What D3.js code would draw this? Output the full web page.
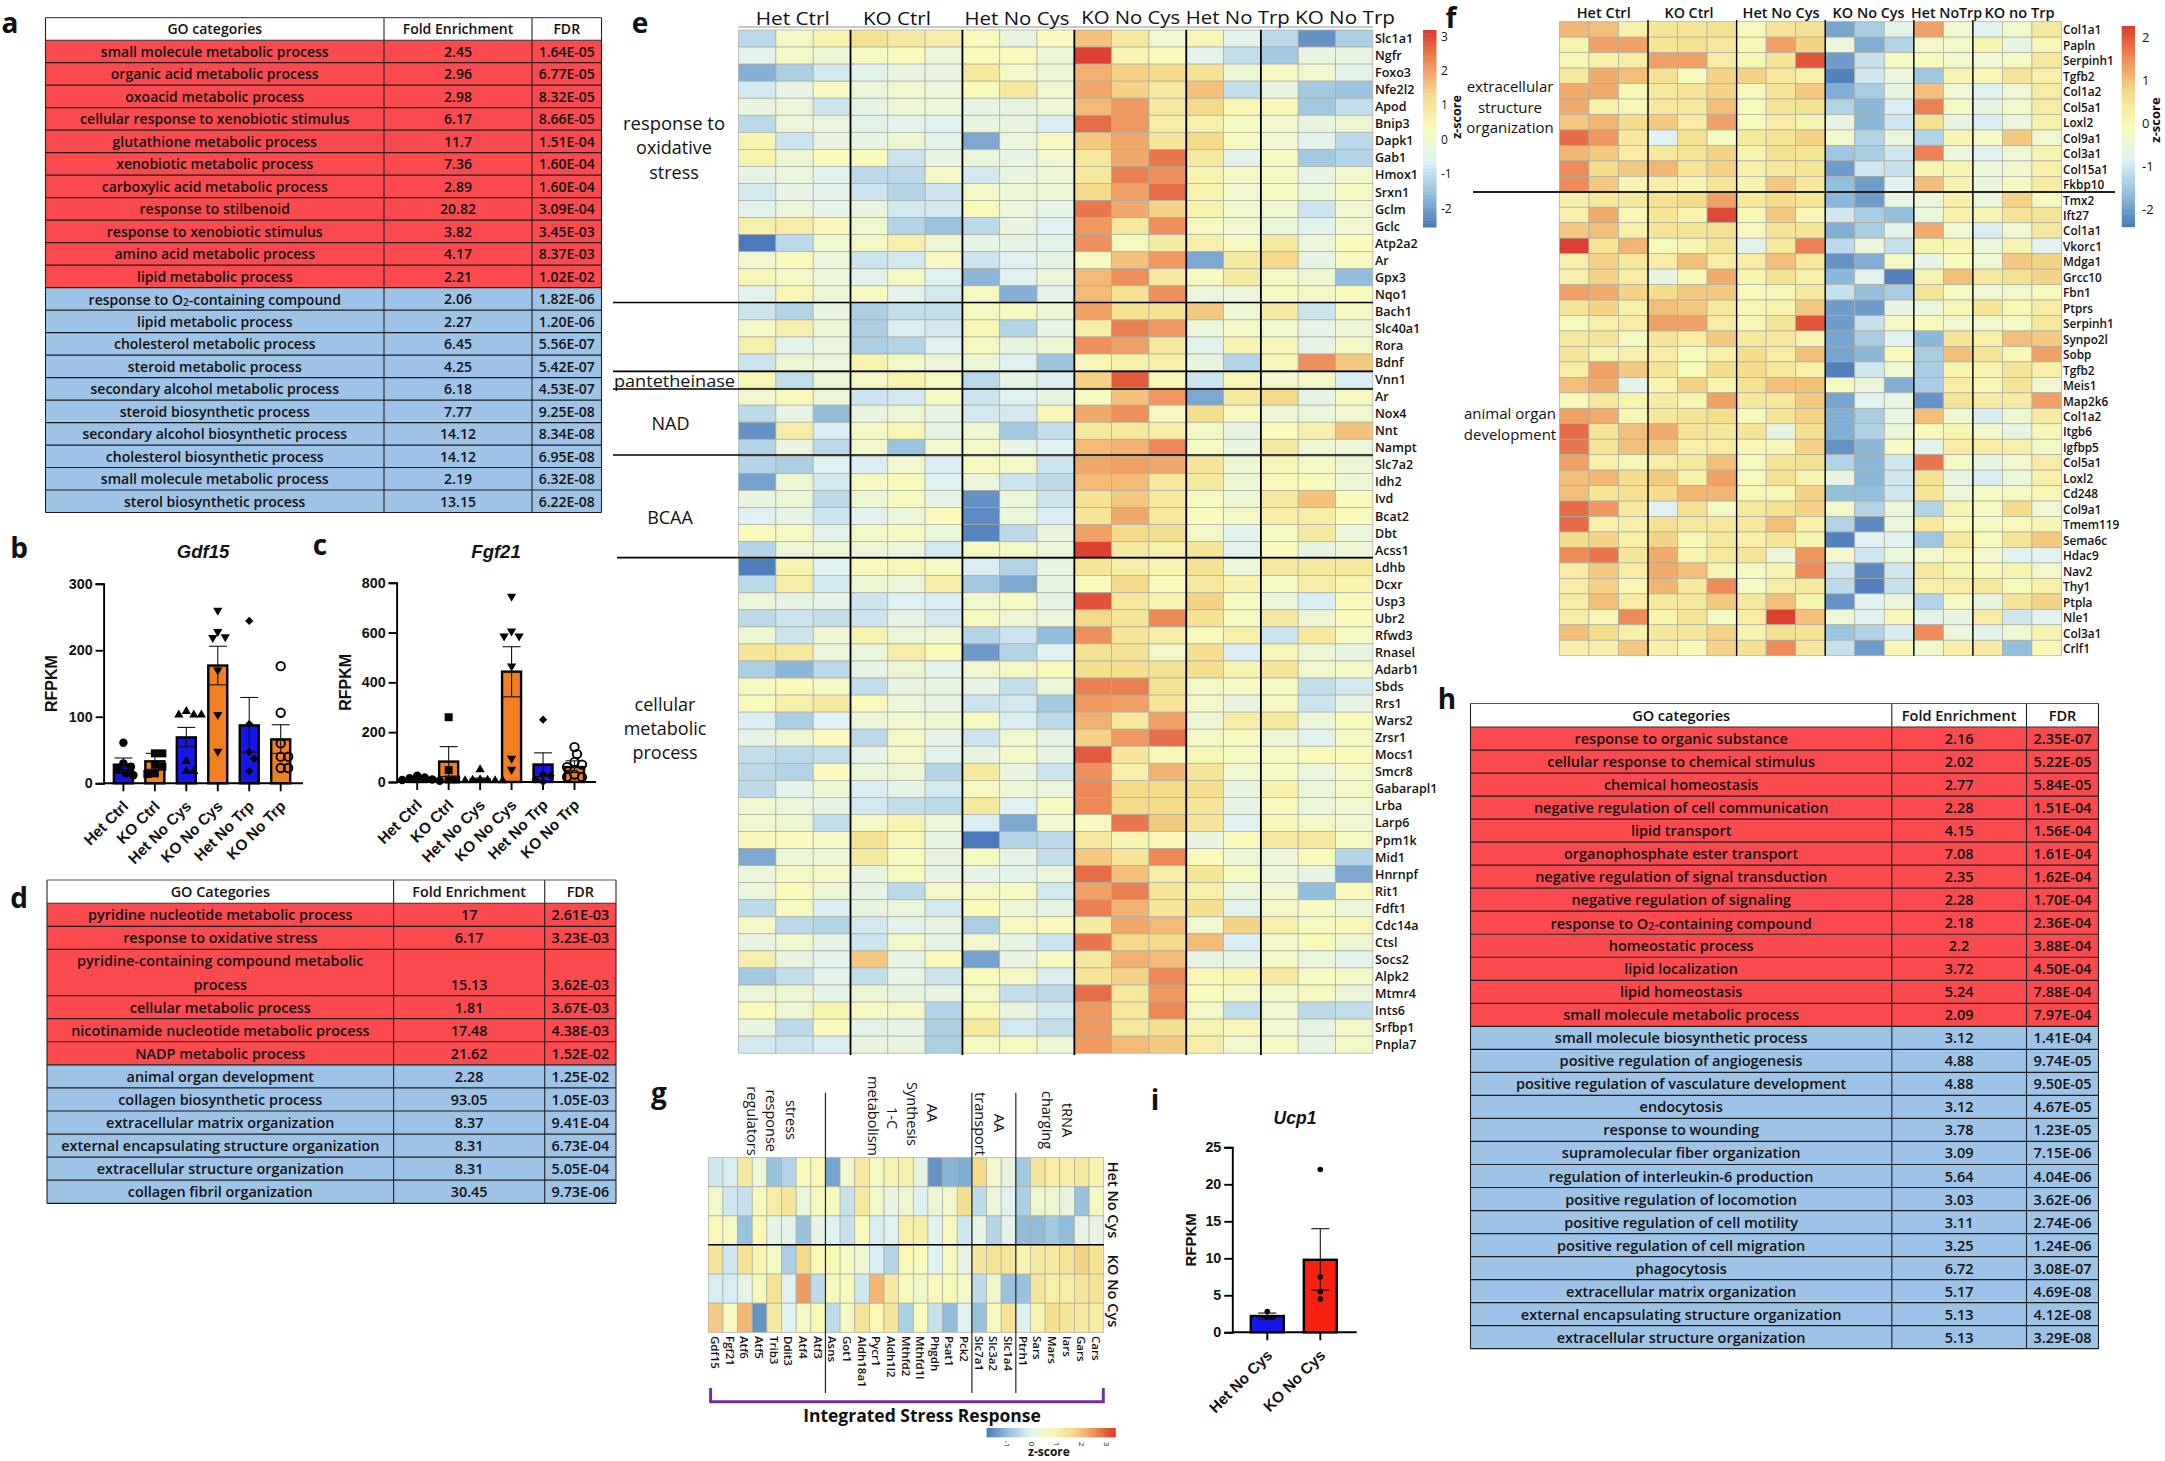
<!DOCTYPE html>
<html><head><meta charset="utf-8">
<script src="https://cdn.jsdelivr.net/npm/d3@7/dist/d3.min.js"></script>
<style>
html,body{margin:0;padding:0;background:#fff}
svg{display:block}
text{font-family:"Open Sans","Noto Sans",sans-serif;fill:#111}
.ar{font-family:"Liberation Sans",Arial,sans-serif;font-weight:700}
</style></head><body>
<svg id="c" width="2165" height="1461" viewBox="0 0 2165 1461"></svg>
<script>
// ---------- table data ----------
const termsA=["small molecule metabolic process","organic acid metabolic process","oxoacid metabolic process","cellular response to xenobiotic stimulus","glutathione metabolic process","xenobiotic metabolic process","carboxylic acid metabolic process","response to stilbenoid","response to xenobiotic stimulus","amino acid metabolic process","lipid metabolic process","response to O₂-containing compound","lipid metabolic process","cholesterol metabolic process","steroid metabolic process","secondary alcohol metabolic process","steroid biosynthetic process","secondary alcohol biosynthetic process","cholesterol biosynthetic process","small molecule metabolic process","sterol biosynthetic process"];
const foldA=["2.45","2.96","2.98","6.17","11.7","7.36","2.89","20.82","3.82","4.17","2.21","2.06","2.27","6.45","4.25","6.18","7.77","14.12","14.12","2.19","13.15"];
const fdrA=["1.64E-05","6.77E-05","8.32E-05","8.66E-05","1.51E-04","1.60E-04","1.60E-04","3.09E-04","3.45E-03","8.37E-03","1.02E-02","1.82E-06","1.20E-06","5.56E-07","5.42E-07","4.53E-07","9.25E-08","8.34E-08","6.95E-08","6.32E-08","6.22E-08"];
const redA=11;
const termsD=["pyridine nucleotide metabolic process","response to oxidative stress","pyridine-containing compound metabolic|process","cellular metabolic process","nicotinamide nucleotide metabolic process","NADP metabolic process","animal organ development","collagen biosynthetic process","extracellular matrix organization","external encapsulating structure organization","extracellular structure organization","collagen fibril organization"];
const foldD=["17","6.17","15.13","1.81","17.48","21.62","2.28","93.05","8.37","8.31","8.31","30.45"];
const fdrD=["2.61E-03","3.23E-03","3.62E-03","3.67E-03","4.38E-03","1.52E-02","1.25E-02","1.05E-03","9.41E-04","6.73E-04","5.05E-04","9.73E-06"];
const redD=6;
const termsH=["response to organic substance","cellular response to chemical stimulus","chemical homeostasis","negative regulation of cell communication","lipid transport","organophosphate ester transport","negative regulation of signal transduction","negative regulation of signaling","response to O₂-containing compound","homeostatic process","lipid localization","lipid homeostasis","small molecule metabolic process","small molecule biosynthetic process","positive regulation of angiogenesis","positive regulation of vasculature development","endocytosis","response to wounding","supramolecular fiber organization","regulation of interleukin-6 production","positive regulation of locomotion","positive regulation of cell motility","positive regulation of cell migration","phagocytosis","extracellular matrix organization","external encapsulating structure organization","extracellular structure organization"];
const foldH=["2.16","2.02","2.77","2.28","4.15","7.08","2.35","2.28","2.18","2.2","3.72","5.24","2.09","3.12","4.88","4.88","3.12","3.78","3.09","5.64","3.03","3.11","3.25","6.72","5.17","5.13","5.13"];
const fdrH=["2.35E-07","5.22E-05","5.84E-05","1.51E-04","1.56E-04","1.61E-04","1.62E-04","1.70E-04","2.36E-04","3.88E-04","4.50E-04","7.88E-04","7.97E-04","1.41E-04","9.74E-05","9.50E-05","4.67E-05","1.23E-05","7.15E-06","4.04E-06","3.62E-06","2.74E-06","1.24E-06","3.08E-07","4.69E-08","4.12E-08","3.29E-08"];
const redH=13;

// ---------- bar chart data ----------
const barGroups=["Het Ctrl","KO Ctrl","Het No Cys","KO No Cys","Het No Trp","KO No Trp"];
const gdf15Mean=[28,33,69,177,87,66];
const gdf15Hi=[38,45,84,206,129,88];
const gdf15Lo=[18,21,55,148,47,45];
const gdf15Pts=[[61,30,25,20,15,12],[45,45,25,15,28,14],[108,103,103,103,33,18,18],[260,228,219,220,170,103,48],[244,89,47,37,18],[176,106,60,40,40,23,23]];
const fgf21Mean=[12,82,10,443,70,60];
const fgf21Hi=[16,142,16,543,117,85];
const fgf21Lo=[8,22,4,342,22,38];
const fgf21Pts=[[25,18,15,10,8,5],[260,48,10,10],[50,10,8,8,6,6,6],[745,605,585,585,465,95,50],[250,30,25,10,0],[140,112,80,70,60,30,20,20]];
const ucpGroups=["Het No Cys","KO No Cys"];
const ucpMean=[2.2,9.8];
const ucpHi=[2.6,14];
const ucpLo=[1.8,5.7];
const ucpPts=[[2.8,2,2],[22,7.5,5.5,4.5]];

// ---------- heatmap e ----------
const genesE=["Slc1a1","Ngfr","Foxo3","Nfe2l2","Apod","Bnip3","Dapk1","Gab1","Hmox1","Srxn1","Gclm","Gclc","Atp2a2","Ar","Gpx3","Nqo1","Bach1","Slc40a1","Rora","Bdnf","Vnn1","Ar","Nox4","Nnt","Nampt","Slc7a2","Idh2","Ivd","Bcat2","Dbt","Acss1","Ldhb","Dcxr","Usp3","Ubr2","Rfwd3","Rnasel","Adarb1","Sbds","Rrs1","Wars2","Zrsr1","Mocs1","Smcr8","Gabarapl1","Lrba","Larp6","Ppm1k","Mid1","Hnrnpf","Rit1","Fdft1","Cdc14a","Ctsl","Socs2","Alpk2","Mtmr4","Ints6","Srfbp1","Pnpla7"];
const heatE=[
[-1.1,0.1,0.5,1.1,0.8,0.7,0.3,-0.3,0.3,1.6,0.8,0,0.4,-0.5,-1.1,-2.2,-1.3],
[-0.5,0.1,-0.1,0.2,0.3,-0.2,0.3,0.3,-0.1,3.1,0.5,0.3,-0.5,-1,-1.4,-0.3,-0.3],
[-1.8,-1.3,-0.8,-0.5,-0.3,-0.3,0.9,0.1,-0.1,1.8,1.4,1.3,1.1,-0.1,0.2,0,-0.5],
[-0.8,-0.4,0.2,-0.2,0,-0.2,0.3,0.8,0,1.9,1.4,0.8,1.6,-1,-0.3,-1.4,-1.5],
[-0.3,-0.2,-0.9,-0.4,-0.1,-0.2,-0.4,-0.3,-0.1,1.7,2.1,0.9,1.3,0.4,0.4,-1.4,-1],
[-1.1,-0.2,-0.2,-0.5,-0.5,-0.6,-0.3,-0.3,-0.7,2.6,2.1,0.7,0.6,0.2,0,-0.3,-0.1],
[0.5,-0.9,-0.3,-0.4,-0.1,-0.5,-1.9,-0.2,0.2,1.5,1.9,1,1.3,0.2,0,-0.5,-1.1],
[0.5,-0.1,0.3,0.3,-0.9,-0.3,-0.2,-0.4,0,0.9,1.9,2.5,0.8,-0.5,0.2,-1.4,-1.2],
[-0.4,-0.2,-0.5,-1.1,-1.1,0.1,-0.8,-0.3,-0.1,0.9,2.4,2.2,0.5,0.1,0.2,-0.4,0],
[-0.8,-0.4,-0.5,-0.9,-1.2,-0.9,0.1,-0.1,-0.1,1.3,2,2.6,0.5,0,0.2,-0.2,0.2],
[-0.5,-0.2,-0.4,-0.3,-0.8,-0.8,0.3,-0.2,-0.4,2.5,1.9,1.4,0.5,0,0,-0.9,0],
[0.6,0.7,0.4,0,-1.2,-1.5,-1.1,-0.3,-0.6,2.1,0.9,2.2,0.2,0,-0.2,-0.5,0],
[-2.6,-1.1,0,0.1,0.6,-0.1,-0.4,-0.4,-0.5,2.2,0.2,0.8,0.6,0.2,0.8,-0.2,0.3],
[0,0.3,-0.2,-0.9,-0.8,0.2,-0.9,-0.6,-0.4,0.2,1.6,2.1,-1.9,0.8,1.3,-0.4,0.2],
[0.4,0.1,-0.2,-0.5,0.2,-0.6,-1.7,-0.6,-0.2,1.7,2.2,0.8,0.2,0.8,0.1,-0.1,-1.6],
[-0.5,0.4,-0.1,0.2,-0.5,-0.8,0.2,-1.8,-0.5,1.7,1.1,2.2,-0.2,-0.2,0.2,0.1,0.3],
[-0.9,-1.2,-0.3,-1.3,-1,-1,0.2,0.2,-0.1,2,1.1,1.1,1.5,-0.1,0.8,-0.9,0.2],
[0.1,0.6,-0.1,-1.3,-0.7,-0.8,0.4,-1.2,-0.4,0.7,2.4,2.1,-0.2,0.1,0,-0.4,-0.1],
[0.6,-0.5,-0.2,-1.3,-1.2,-0.6,0.2,-0.3,-0.1,2.2,2,0.9,-0.5,0.5,0.4,-0.4,0.1],
[-0.9,-0.1,-0.2,0.5,0.1,-0.2,-0.1,-0.6,-1.5,0.4,0.6,0.6,-0.3,-1.2,0.4,2.2,1.5],
[0.4,-1,-0.1,0.1,0.5,0.2,-1.1,-0.4,-0.7,1.4,2.8,0.4,-0.9,0.4,0,0.1,-0.7],
[0,0.3,-0.2,-0.9,-0.8,0.2,-0.9,-0.6,-0.4,0.2,1.6,2.1,-1.9,0.8,1.3,-0.4,0.2],
[-1.1,-0.4,-1.6,-0.3,-0.1,-0.4,-0.8,-0.8,0.4,1.9,2.2,0.2,1.2,0.2,-0.1,-0.2,0],
[-2.2,0.7,-0.7,0.1,0.4,-0.4,-0.1,-1.4,-1,0.9,0.9,0.7,0.1,-0.4,0.3,0.6,1.6],
[-1.2,-0.3,-1.1,0,-1.5,0,0.1,-0.4,-0.6,1.7,1.8,2.3,0.2,-0.3,0.8,-0.1,-0.2],
[-1.2,-1.3,-0.6,-0.7,0,-0.7,0.2,0.1,-0.9,1.9,2,1.9,1,-0.1,0.4,0.1,-0.1],
[-2,-0.1,-0.8,0.2,0.3,-0.6,-0.2,-0.9,-1.1,1.7,1.7,0.9,0.8,-0.1,0.3,0.3,-0.1],
[-0.3,-0.1,-1.1,-0.1,0.2,-0.4,-2.2,-0.2,-0.9,1.1,1.5,0.9,0.2,-0.1,0.9,1.6,0.3],
[-0.6,-0.4,-0.9,-0.5,-0.2,0.3,-2.3,-0.2,-0.7,1,1.9,0.9,0.3,0.1,0.7,0.7,0.3],
[0.3,0.2,-0.5,0.1,0.2,-0.2,-2.4,-1.1,-0.3,2,1.3,1.2,0.1,-0.5,0.2,0.8,-0.2],
[-1.2,-0.1,-0.1,-0.1,-0.2,-0.8,0.2,0.1,-0.2,3.1,0.8,0.6,1,-0.5,0.3,-0.3,-0.1],
[-2.5,0.5,-0.6,0.3,0.4,0.2,-0.7,-1.2,-0.3,1,0.7,0.5,1.1,-0.2,0.9,0.8,0.9],
[-1.1,0.7,-0.8,-0.1,-0.2,0.7,-1.4,-1.9,-0.3,0.3,1.3,0.3,0.9,0.6,0.2,0.7,0.5],
[-0.2,-0.4,-0.4,-0.9,-0.6,-0.7,0,0.2,-0.4,2.9,0.9,0.5,1.4,0.2,-0.2,-0.7,0.3],
[-1.1,-0.9,-1,-0.9,-0.4,-0.8,0.2,-0.1,-0.2,1.3,1,2.3,1.1,0.2,0.9,-0.1,0.3],
[-0.1,-0.9,-0.1,0.5,-0.2,-0.1,-1.2,-0.9,-1.6,2.2,1,0.7,0.3,0.6,-0.9,0.9,0.2],
[1,0.9,-0.2,-0.2,0.7,0.3,-2.1,-1.2,-0.6,1.1,1.1,0.1,1.2,-0.7,0.4,-0.1,-0.3],
[-1.3,-1.7,-1.1,-0.4,-0.1,-0.5,0,0.1,0.3,1.2,1.2,1.1,1.2,0.5,1,0,0.1],
[0.2,0.3,0.1,-1,-0.3,-0.3,-0.4,-1,-0.2,2.4,2.4,1.1,0.1,0.2,0.2,-1,-0.8],
[0.3,0.6,0.8,0.3,-0.2,-0.4,-0.9,-0.8,-1.4,2.1,2,1,0.1,-0.3,0.2,-0.9,-0.4],
[-0.7,-1.3,-0.6,-0.2,0,-0.1,0.2,-0.7,-1.1,1.8,0.9,2,-0.1,0.7,0.9,-0.2,0.3],
[-0.4,-0.1,0.3,-1.1,0.1,-0.4,-0.9,0,-0.4,1.4,2.1,2.6,0.1,0.2,-0.1,-0.5,0.1],
[-1,-1.1,-1,-0.4,0.1,-0.5,-0.3,0.1,-0.4,2.8,1,0.4,0.4,0.2,0.2,0.3,0.3],
[-1.1,-1.2,0.3,-0.2,-0.1,-1.2,0.8,-0.3,-0.9,2.2,0.6,1.8,1,0,0.2,-0.2,0.1],
[-1.1,-0.5,-0.1,-0.7,-0.4,-0.8,0.2,-0.1,-0.2,2.3,1.3,1.3,1.2,-0.3,0.6,-0.2,0.1],
[0,-0.2,-0.4,-0.8,-1,-1.1,0.8,-0.6,0.2,2.3,1.3,1.3,1,-0.4,0.3,-0.2,0],
[0,-0.1,-1,0.1,0.5,-0.2,-0.7,-1.9,0,0.2,2.5,1.5,1,-0.6,0.4,0.1,0],
[0.4,0.3,0.1,1.1,0.4,-0.3,-2.6,-1.2,-1.1,0.9,0.5,0.4,-0.3,0.3,0.9,0.9,0.2],
[-1.9,-0.1,-0.1,0.8,0.2,-0.3,0.2,-0.4,-1,1.5,1,2.3,0.3,-0.1,-0.2,0.3,-1.2],
[-0.2,0.1,0.1,-0.3,0.2,-0.4,-0.4,-0.5,-0.2,2.6,1.6,0.7,1,0.2,-0.2,-0.4,-1.9],
[-0.2,0.3,-0.1,-0.4,-1.1,0.1,0.1,0.2,-0.8,2,2.4,1,0.6,-0.2,0,-1.6,0.3],
[-1.1,0.2,-0.7,-0.3,-0.2,-0.8,0.3,-0.1,-0.4,2.4,1.8,1,1.2,-0.5,0.1,0.2,-0.2],
[0.1,-1.1,-1.2,-0.8,-0.5,-0.3,-1.3,0.2,0.3,0.8,1.9,1.7,0,1.4,0.6,0.2,0.4],
[-0.3,0,-0.4,-0.9,0.1,-0.4,0,-0.4,-0.9,2.5,1.3,1.3,1.7,-0.7,0.1,0.3,-0.1],
[0.6,-0.3,-0.5,1.5,-0.4,0.3,-2,-0.3,0.2,0.9,1.8,1.7,-0.3,-0.4,0.1,-0.2,-0.5],
[-1.4,-1,-0.5,-1,-0.4,-0.9,0.3,0.1,-0.7,1,1.4,2.3,0.4,0.5,0.8,0.2,0.1],
[-0.2,-0.1,-0.4,-0.1,-0.3,-0.4,0.1,-1,-1.1,2.6,0.9,2.1,0.3,0.1,0.1,0.2,-0.2],
[0.3,-0.1,0.5,0.2,0.1,-1.2,0.4,-0.3,-0.8,2.1,0.9,2.3,0.1,-1,0,-1.1,-1],
[-0.3,-1.1,0.3,-0.5,-0.4,-1.3,0.9,-0.8,-1,2.1,0.9,1.2,0.5,0.4,0,-0.4,0.1],
[-0.8,-0.9,-0.7,-0.3,-0.3,-1.3,0.2,0.2,-0.1,2.1,1.7,1.5,0.7,0,0.2,-0.4,0.1]];
const headE=["Het Ctrl","KO Ctrl","Het No Cys","KO No Cys","Het No Trp","KO No Trp"];

// ---------- heatmap f ----------
const genesF=["Col1a1","Papln","Serpinh1","Tgfb2","Col1a2","Col5a1","Loxl2","Col9a1","Col3a1","Col15a1","Fkbp10","Tmx2","Ift27","Col1a1","Vkorc1","Mdga1","Grcc10","Fbn1","Ptprs","Serpinh1","Synpo2l","Sobp","Tgfb2","Meis1","Map2k6","Col1a2","Itgb6","Igfbp5","Col5a1","Loxl2","Cd248","Col9a1","Tmem119","Sema6c","Hdac9","Nav2","Thy1","Ptpla","Nle1","Col3a1","Crlf1"];
const heatF=[
[1.1,1,0.2,0.5,0.5,0.6,-0.1,0.5,0.6,-1.9,-1.4,-0.7,1.3,-0.4,-0.8,-0.3,0.4],
[0.1,1.3,1.3,0.5,0.6,0.4,0,1.3,0.8,-0.5,-1.8,-1.3,-0.3,-0.3,0.1,-0.6,0],
[0,0.2,0.3,1.3,1.3,0.3,0,0.5,2,-2,-1.1,-0.2,-0.1,-0.3,-0.4,-0.2,0.4],
[0.4,1.2,1,0.6,-0.1,0.8,0.8,0.4,0.2,-2.3,-1,-0.5,-1.5,0.1,0,0.5,0.2],
[1.2,1.2,0,0.4,0.5,0.8,-0.1,0.5,0.9,-1.8,-1.4,-0.6,1,-0.4,-0.8,-0.4,0.3],
[1.2,0.2,0,0.4,0.4,1,-0.1,0.5,0.6,-1.3,-1.7,-0.9,1.6,-0.2,-0.6,-0.3,0.3],
[0.9,1.1,0.7,0.9,0.3,1.3,-0.1,0.3,0.1,-0.6,-1.7,-1,0.6,-0.6,-0.9,-0.5,0.2],
[1.8,1.4,0.4,-0.8,0.6,-0.2,0.4,0.5,0.8,-0.3,-1.3,-0.5,-1.3,0.1,-0.2,0.9,-0.4],
[1.1,0.9,0.3,0.4,0.5,0.8,0.1,0.6,0.5,-1.5,-1.4,-1,1.6,-0.5,-0.8,-0.4,0.1],
[1.5,0.7,0.9,1.1,0.5,0.8,0.2,0.4,0.5,-2,-1,-1.1,0.1,0.1,-0.5,-0.3,0.2],
[1.5,0.9,0.1,0.2,0,0.5,0.1,0.9,0.4,-1.6,-2,-0.8,1,0.1,-0.5,-0.2,0.3],
[0.2,0.4,0.4,0.6,0.7,1.3,0.4,0.7,0.5,-1.7,-2,-0.6,-0.5,0.2,-0.5,0.8,-0.2],
[0.2,1.2,0,0.5,0.1,2.1,0,0.9,0,-1,-1.4,-1.6,-0.5,0.2,0.1,0.5,0.5],
[0.9,1,0.2,0.5,0.5,0.6,-0.1,0.5,0.5,-1.8,-1.4,-0.7,1.2,-0.4,-0.9,-0.4,0.4],
[2.2,0.5,1.1,-0.1,0.1,0.5,-0.7,0.4,1.6,-1.2,-0.5,-1.1,0.1,0.1,-0.5,0.1,-0.8],
[0.2,0.8,0.4,0.3,1,0.3,0.3,1,0.4,-2.1,-1.8,-0.2,-0.6,-0.1,-0.4,0.9,0.8],
[0.2,0.8,0.3,-0.6,0,1.2,0.1,0.6,0.2,-1.7,-0.8,-2.3,0.1,1,0.4,0.6,0.8],
[1.3,1.2,0.8,0.7,0.9,0.9,-0.1,0,0.4,-1.1,-1.6,-1.4,0.5,-0.2,-0.4,-0.3,-0.1],
[0.5,0.8,0.2,1,0.9,0.4,0,0.1,0.9,-2,-2,-0.6,-0.5,0,0.5,0,0.3],
[-0.1,0.2,0.3,1.3,1.3,0.3,0,0.5,2,-2,-1.1,-0.2,-0.1,-0.3,-0.3,-0.2,0.4],
[0.4,0.5,-0.2,0.5,0.3,0.9,0.4,0.4,0.1,-1.9,-1.4,-0.8,-1.7,0.5,0.2,1,0.9],
[0.5,0.1,0.2,0.3,-0.1,0.2,0.7,0.3,1,-1.9,-1.7,-0.1,-1.4,1,0.5,0,1.3],
[0.3,1.3,0.9,0.5,-0.1,0.7,0.7,0.4,0.2,-2.3,-1,-0.4,-1.4,0.1,0.1,0.5,0.2],
[1,1.2,-0.7,0.1,0.8,0.1,0.6,1,1,-0.2,-0.5,-1.8,-1.4,0.3,0,0.5,-0.4],
[-0.1,0.4,0.1,0.3,0.1,1.3,0.4,0.4,0.9,-1.9,-0.8,-0.6,-2.1,0.5,0.3,0.3,1.3],
[1.3,1.2,0,0.4,0.5,0.7,-0.1,0.5,0.8,-1.8,-1.4,-0.6,1,-0.4,-0.9,-0.4,0.3],
[1.8,0.5,1,1.2,0.5,0.4,0.5,-0.6,0.6,-1.8,-1.3,-0.5,-0.1,0.1,-0.3,-0.6,0],
[1.7,0.5,1,0.9,0.2,0.3,0,0,0.8,-2.1,-1.7,-0.2,-0.7,0.3,0.3,0.2,-0.3],
[1.3,0.2,0,0.3,0.4,1,-0.1,0.5,0.6,-1.3,-1.7,-1,1.7,-0.2,-0.6,-0.3,0.3],
[1,1.1,0.7,0.9,0.2,1.3,-0.1,0.6,0.1,-0.6,-1.7,-1,0.6,-0.6,-0.9,-0.5,0.2],
[1,0.5,0.6,0.7,1.1,1.1,0,0,0.8,-1.6,-1.6,-1,0.5,-0.5,-0.2,-0.2,0],
[1.8,1.4,0.4,-0.8,0.6,-0.2,0.4,0.6,0.8,-0.3,-1.3,-0.5,-1.3,0.1,-0.2,0.7,-0.4],
[1.8,0.2,0.2,0.6,0.4,0.4,0.4,1,0.2,-1.3,-2.2,-0.5,0.4,-0.1,-0.2,-0.1,0.1],
[0.7,0.8,0.2,0.8,0,0.4,0.2,0.5,0.1,-2.3,-0.8,-0.8,-1.5,0.4,-0.1,0.5,0.9],
[1.5,1.7,0.5,1.2,0.1,0.4,0.5,-0.5,1.4,-0.3,-1,-0.5,-0.3,0,-0.3,-0.8,-0.8],
[0.3,0.9,0.3,1.2,1,0.1,-0.2,0.1,1.5,-1,-2.2,-1,0.4,0.1,0,0.1,-0.3],
[0.3,0.8,0,1.1,0.4,1.5,-0.2,0.3,0.4,-1.2,-2.3,-1.1,0.2,0.3,0.4,-0.1,0.2],
[0.3,1,0.3,0.4,0.4,0.9,0.4,1,0.1,-2.1,-0.8,-0.5,-1.3,-0.2,-0.6,0.5,0.8],
[0.3,0,1.5,0.1,0.5,-0.2,0.3,2.2,1,-0.4,-0.8,0,-0.7,-0.6,0.3,-1,-0.8],
[1,0.7,0.2,0.4,0.4,0.8,0.1,0.6,0.5,-1.5,-1.3,-0.9,1.5,-0.5,-0.7,-0.4,0.1],
[0.2,0.2,0.9,0.2,0,0.8,0.6,1.5,0.4,-1.1,-2,0,-0.3,0.2,0.3,-1.6,0]];
const headF=["Het Ctrl","KO Ctrl","Het No Cys","KO No Cys","Het NoTrp","KO no Trp"];

// ---------- heatmap g ----------
const genesG=["Gdf15","Fgf21","Atf6","Atf5","Trib3","Ddit3","Atf4","Atf3","Asns","Got1","Aldh18a1","Pycr1","Aldh1l2","Mthfd2","Mthfd1l","Phgdh","Psat1","Pck2","Slc7a1","Slc3a2","Slc1a4","Ptrh1","Sars","Mars","Iars","Gars","Cars"];
const heatG=[
[-0.3,-0.2,1.2,0.3,-0.9,-0.6,0.7,0.8,-1.3,0.5,1.2,0.6,0.9,1,0.1,-1.5,-1.1,-1.2,1.6,0.5,0.2,-0.8,1.3,1.1,1.1,1.2,0.9],
[0.5,-0.3,-0.4,0.7,1.1,1.3,0.3,0.7,0.7,-0.4,1.2,0.5,0.2,0.4,-0.1,0.3,0.5,1.5,-0.5,0.3,-0.1,-0.7,0.4,0.4,0.2,-0.9,0.6],
[0.8,0.6,-0.9,0.8,0.1,0,-0.9,0.1,-0.1,-0.4,0.7,-0.2,-0.1,1,1,0,0.7,-0.3,0.1,-0.6,0,-1,-1,-0.8,-1,0.1,0.1],
[1.4,-0.3,1.4,0.9,0.6,-0.7,1.6,0.8,0.8,0.6,0.4,-0.2,-0.6,0.8,0.7,-0.1,0.7,0.1,1.3,1.4,1.3,0.9,1.2,1.2,1.4,1.7,1.4],
[-0.2,-0.2,0.1,0.7,1.4,-0.1,2.3,-0.5,0.7,0.7,-0.3,2,1.2,0.7,0.5,0.7,0.7,0.5,-0.5,0.4,-0.9,-0.9,1.3,1,1.1,1.3,1.4],
[1.8,0.6,2,-1.5,1.2,-0.1,0.6,0.8,-0.5,0.6,1.4,0.8,1.3,-0.7,0.7,-0.4,-1,-0.1,-0.9,0.7,1.4,-0.1,0.9,1.5,1.3,1.2,1.1]];
const rowsG=["Het No Cys","KO No Cys"];

// ---------- colour ----------
const PAL=["#4a78b8","#92bedb","#dff1f4","#f8f9ba","#f5dd8e","#ee8f5c","#da3a2c"];
const colourScale=(lo,hi)=>d3.scaleLinear().domain(d3.range(7).map(i=>lo+(hi-lo)*i/6)).range(PAL).clamp(true);
const colE=colourScale(-2.56,3.17), colF=colourScale(-2.4,2.25), colG=colourScale(-1.84,3.3);

const svg=d3.select("#c");
svg.append("rect").attr("width",2165).attr("height",1461).attr("fill","#fff");

function txt(g,s,x,y,o={}){
  const t=g.append("text").attr("x",x).attr("y",y).text(s)
    .attr("text-anchor",o.anchor||"middle").attr("dominant-baseline",o.base||"central")
    .attr("font-size",o.size||13).attr("font-weight",o.weight||400);
  if(o.len)t.attr("textLength",o.len).attr("lengthAdjust","spacingAndGlyphs");
  if(o.rot!==undefined)t.attr("transform",`rotate(${o.rot},${x},${y})`);
  if(o.cls)t.attr("class",o.cls);
  if(o.style)t.attr("font-style",o.style);
  return t;
}

// ---------- tables ----------
function table(o){
  const g=svg.append("g");
  const units=o.terms.map(t=>t.includes("|")?2:1);
  const cum=d3.cumsum(units);
  const total=cum[cum.length-1];
  const y=d3.scaleLinear().domain([0,total]).range([o.headBottom,o.bottom]);
  g.append("rect").attr("x",o.cols[0]).attr("y",o.top).attr("width",o.cols[3]-o.cols[0]).attr("height",o.headBottom-o.top).attr("fill","#fff");
  o.terms.forEach((t,i)=>{
    const u0=i?cum[i-1]:0,u1=cum[i];
    g.append("rect").attr("x",o.cols[0]).attr("y",y(u0)).attr("width",o.cols[3]-o.cols[0]).attr("height",y(u1)-y(u0))
      .attr("fill",i<o.nRed?"#fb4a4e":"#9dc3e6");
  });
  const fs=o.size;
  const cx=[(o.cols[0]+o.cols[1])/2,(o.cols[1]+o.cols[2])/2,(o.cols[2]+o.cols[3])/2];
  txt(g,o.heads[0],cx[0],(o.top+o.headBottom)/2,{size:fs,weight:600});
  txt(g,o.heads[1],cx[1],(o.top+o.headBottom)/2,{size:fs,weight:600});
  txt(g,o.heads[2],cx[2],(o.top+o.headBottom)/2,{size:fs,weight:600});
  o.terms.forEach((t,i)=>{
    const u0=i?cum[i-1]:0,u1=cum[i];
    const yc=(y(u0)+y(u1))/2, h=(y(u1)-y(u0));
    const lines=t.split("|");
    lines.forEach((ln,k)=>{
      const ly=lines.length>1?y(u0)+h*(k+0.5)/2:yc;
      if(ln.includes("O₂")){
        const [a,b]=ln.split("O₂");
        const tx=txt(g,"",cx[0],ly,{size:fs,weight:600});
        tx.append("tspan").text(a+"O");
        tx.append("tspan").text("2").attr("font-size",fs*0.72).attr("dy",3);
        tx.append("tspan").text(b).attr("dy",-3);
      } else txt(g,ln,cx[0],ly,{size:fs,weight:600});
    });
    const vy=lines.length>1?y(u0)+h*0.75:yc;
    txt(g,o.fold[i],cx[1],vy,{size:fs,weight:600});
    txt(g,o.fdr[i],cx[2],vy,{size:fs,weight:600});
  });
  const ln=(x1,y1,x2,y2,w,c)=>g.append("line").attr("x1",x1).attr("y1",y1).attr("x2",x2).attr("y2",y2).attr("stroke",c||"#222").attr("stroke-width",w);
  cum.forEach(u=>ln(o.cols[0],y(u),o.cols[3],y(u),1.2,"#1c1c1c"));
  o.cols.forEach(c=>ln(c,o.top,c,o.bottom,1.1,"#222"));
  ln(o.cols[0],o.top,o.cols[3],o.top,1.1,"#555");
  ln(o.cols[0],o.headBottom,o.cols[3],o.headBottom,1.1,"#333");
}
table({terms:termsA,fold:foldA,fdr:fdrA,nRed:redA,heads:["GO categories","Fold Enrichment","FDR"],cols:[45.5,384,532,601.5],top:17.6,headBottom:40.2,bottom:512.5,size:14});
table({terms:termsD,fold:foldD,fdr:fdrD,nRed:redD,heads:["GO Categories","Fold Enrichment","FDR"],cols:[47,393.6,544.7,616],top:880,headBottom:903.3,bottom:1203.3,size:14.4});
table({terms:termsH,fold:foldH,fdr:fdrH,nRed:redH,heads:["GO categories","Fold Enrichment","FDR"],cols:[1470.5,1891.8,2026.5,2098.5],top:703.5,headBottom:727,bottom:1348.7,size:14.5});

// ---------- bars ----------
function marker(g,mk,px,py,r){
  let p;
  if(mk==="circle"||mk==="open") p=d3.symbol().type(d3.symbolCircle).size(Math.PI*r*r)();
  else if(mk==="square") p=d3.symbol().type(d3.symbolSquare).size(3.6*r*r)();
  else if(mk==="diamond") p=d3.symbol().type(d3.symbolSquare).size(1.9*r*r)();
  else p=d3.symbol().type(d3.symbolTriangle).size(2.1*r*r)();
  const rot=mk==="down"?180:mk==="diamond"?45:0;
  const pth=g.append("path").attr("d",p).attr("transform",`translate(${px},${py}) rotate(${rot})`);
  if(mk==="open")pth.attr("fill","none").attr("stroke","#000").attr("stroke-width",1.9);
  else pth.attr("fill","#000");
}
function swarm(vals,y,r){
  const placed=[];
  [...vals].sort((a,b)=>b-a).forEach(v=>{
    const py=y(v);let off=0,k=0;
    const clash=d=>placed.some(p=>(p.dx-d)**2+(p.py-py)**2<(r*1.75)**2);
    while(clash(off)&&k<20){k++;off=(k%2?1:-1)*Math.ceil(k/2)*2.5;}
    placed.push({v,dx:off,py});
  });
  return placed;
}
function barChart(o){
  const g=svg.append("g");
  const x=d3.scalePoint().domain(o.groups).range(o.xr);
  const y=d3.scaleLinear().domain([0,o.max]).range(o.yr);
  o.groups.forEach((gr,i)=>{
    g.append("rect").attr("x",x(gr)-o.bw/2).attr("y",y(o.mean[i])).attr("width",o.bw).attr("height",y(0)-y(o.mean[i]))
      .attr("fill",o.fills[i]).attr("stroke","#000").attr("stroke-width",2.4);
  });
  o.groups.forEach((gr,i)=>{
    swarm(o.pts[i],y,o.r).forEach(p=>marker(g,o.marks[i],x(gr)+p.dx,y(p.v),o.r));
    const cx=x(gr);
    [[cx,y(o.lo[i]),cx,y(o.hi[i])],[cx-9,y(o.hi[i]),cx+9,y(o.hi[i])],[cx-9,y(o.lo[i]),cx+9,y(o.lo[i])]].forEach(s=>
      g.append("line").attr("x1",s[0]).attr("y1",s[1]).attr("x2",s[2]).attr("y2",s[3]).attr("stroke","#111").attr("stroke-width",1.1));
  });
  const ya=g.append("g").attr("transform",`translate(${o.axisX},0)`).call(d3.axisLeft(y).tickValues(o.ticks).tickSize(8).tickPadding(3));
  ya.select(".domain").attr("stroke","#000").attr("stroke-width",1.9);
  ya.selectAll(".tick line").attr("stroke","#000").attr("stroke-width",1.9);
  ya.selectAll("text").attr("class","ar").attr("font-size",14.3).style("fill","#111");
  g.append("line").attr("x1",o.axisX).attr("x2",o.xEnd).attr("y1",y(0)).attr("y2",y(0)).attr("stroke","#000").attr("stroke-width",1.9);
  o.groups.forEach(gr=>{
    g.append("line").attr("x1",x(gr)).attr("x2",x(gr)).attr("y1",y(0)).attr("y2",y(0)+8).attr("stroke","#000").attr("stroke-width",1.9);
    txt(g,gr,x(gr)+2,y(0)+20,{anchor:"end",cls:"ar",size:15.3,rot:-45,base:"central"});
  });
  txt(g,o.title,o.titleX,o.titleY,{cls:"ar",size:o.titleSize,style:"italic",base:"alphabetic"});
  txt(g,"RFPKM",o.labelX,(o.yr[0]+o.yr[1])/2,{cls:"ar",size:o.labelSize,rot:-90});
}
const B="#1616e8",O="#f37f20",R="#f8200f";
const marksSix=["circle","square","up","down","diamond","open"];
barChart({groups:barGroups,mean:gdf15Mean,hi:gdf15Hi,lo:gdf15Lo,pts:gdf15Pts,fills:[B,O,B,O,B,O],marks:marksSix,xr:[123.4,280.7],yr:[783.3,583.7],max:300,ticks:[0,100,200,300],bw:19,r:4.2,axisX:103.6,xEnd:303,title:"Gdf15",titleX:203,titleY:558,titleSize:18.5,labelX:51.5,labelSize:16});
barChart({groups:barGroups,mean:fgf21Mean,hi:fgf21Hi,lo:fgf21Lo,pts:fgf21Pts,fills:[B,O,B,O,B,O],marks:marksSix,xr:[417.2,574.5],yr:[782,582.7],max:800,ticks:[0,200,400,600,800],bw:19,r:4.2,axisX:396.6,xEnd:596,title:"Fgf21",titleX:496,titleY:558,titleSize:18.5,labelX:346,labelSize:16});
barChart({groups:ucpGroups,mean:ucpMean,hi:ucpHi,lo:ucpLo,pts:ucpPts,fills:[B,R],marks:["circle","circle"],xr:[1267.3,1320.3],yr:[1332.3,1147.3],max:25,ticks:[0,5,10,15,20,25],bw:33,r:2.8,axisX:1232.3,xEnd:1356.7,title:"Ucp1",titleX:1295,titleY:1124,titleSize:17.5,labelX:1190.7,labelSize:15});

// ---------- heatmaps ----------
function heat(o){
  const g=svg.append("g");
  const x=d3.scaleBand().domain(d3.range(o.data[0].length)).range(o.xr);
  const y=d3.scaleBand().domain(d3.range(o.data.length)).range(o.yr);
  o.data.forEach((row,r)=>row.forEach((v,c)=>{
    g.append("rect").attr("x",x(c)).attr("y",y(r)).attr("width",x.bandwidth()).attr("height",y.bandwidth())
      .attr("fill",o.col(v)).attr("stroke","#a9aca0").attr("stroke-width",0.7);
  }));
  return {g,x,y};
}
function colourbar(g,col,lo,hi,x0,x1,y0,y1,vertical){
  const grad=d3.range(60);
  const step=(vertical?(y1-y0):(x1-x0))/60;
  grad.forEach(i=>{
    const v=lo+(hi-lo)*(i+0.5)/60;
    if(vertical) g.append("rect").attr("x",x0).attr("y",y1-(i+1)*step).attr("width",x1-x0).attr("height",step+0.5).attr("fill",col(v));
    else g.append("rect").attr("x",x0+i*step).attr("y",y0).attr("width",step+0.5).attr("height",y1-y0).attr("fill",col(v));
  });
}
const vline=(g,x,y1,y2,w,c)=>g.append("line").attr("x1",x).attr("x2",x).attr("y1",y1).attr("y2",y2).attr("stroke",c||"#000").attr("stroke-width",w);
const hline=(g,y,x1,x2,w,c)=>g.append("line").attr("y1",y).attr("y2",y).attr("x1",x1).attr("x2",x2).attr("stroke",c||"#000").attr("stroke-width",w);

// e
{
  const {g,x,y}=heat({data:heatE,xr:[738.6,1372.8],yr:[30,1053.2],col:colE});
  genesE.forEach((n,i)=>txt(g,n,1375,y(i)+y.bandwidth()/2,{anchor:"start",size:12.5,weight:600}));
  hline(g,27,738.6,1372.8,1.5,"#b5b5b5");
  [3,6,9,12,14].forEach(c=>vline(g,x(c),30,1055,1.8));
  [[302.5,613],[371.4,613],[389,613],[455,613],[557.6,617]].forEach(([yy,x0])=>hline(g,yy,x0,1373,1.7));
  const hx=[792.7,897,1017,1130.7,1237.8,1345], hy=[17.5,17.5,17.5,16,16,16], hw=[74,68,105,99,104,100];
  headE.forEach((t,i)=>txt(g,t,hx[i],hy[i],{size:18.5,len:hw[i]}));
  txt(g,"response  to",674,123,{size:18,len:102});
  [["oxidative",147],["stress",172]].forEach(([t,yy])=>txt(g,t,674,yy,{size:18}));
  txt(g,"pantetheinase",674.5,380,{size:17,len:121});
  txt(g,"NAD",670.5,422.5,{size:18});
  txt(g,"BCAA",670,517,{size:18});
  [["cellular",703.6],["metabolic",728],["process",752]].forEach(([t,yy])=>txt(g,t,665,yy,{size:18}));
  colourbar(g,colE,-2.56,3.17,1423,1436.5,30,227,true);
  const s=d3.scaleLinear().domain([3,-2]).range([36,208]);
  [3,2,1,0,-1,-2].forEach(v=>txt(g,v,1441,s(v),{anchor:"start",size:12}));
  txt(g,"z-score",1456,117,{size:12.5,weight:700,rot:-90,});
}
// f
{
  const {g,x,y}=heat({data:heatF,xr:[1559.4,2061.5],yr:[21.7,655.7],col:colF});
  genesF.forEach((n,i)=>txt(g,n,2063,y(i)+y.bandwidth()/2,{anchor:"start",size:11.8,weight:600}));
  [3,6,9,12,14].forEach(c=>vline(g,x(c),20,655.7,1.4));
  hline(g,192,1473,2115,1.8,"#222");
  const hx=[1603.7,1689,1781,1868.6,1946.6,2019.5];
  const hw=[54,49,77,72,71,70];
  headF.forEach((t,i)=>txt(g,t,hx[i],12.7,{size:14,weight:600,len:hw[i]}));
  [["extracellular",86],["structure",106.7],["organization",127]].forEach(([t,yy])=>txt(g,t,1510,yy,{size:15}));
  [["animal organ",413],["development",434]].forEach(([t,yy])=>txt(g,t,1510,yy,{size:15}));
  colourbar(g,colF,-2.4,2.25,2121.7,2135,26,226.7,true);
  const s=d3.scaleLinear().domain([2,-2]).range([36.7,209]);
  [2,1,0,-1,-2].forEach(v=>txt(g,v,2142,s(v),{anchor:"start",size:13}));
  txt(g,"z-score",2154.5,120,{size:13,weight:700,rot:-90});
}
// g
{
  const {g,x,y}=heat({data:heatG,xr:[708.3,1103.7],yr:[1157.7,1332.3],col:colG});
  genesG.forEach((n,i)=>txt(g,n,x(i)+x.bandwidth()/2,1336,{anchor:"start",size:11.5,weight:600,rot:90}));
  [8,18,21].forEach(c=>vline(g,x(c),1092.7,1393,1.2,"#222"));
  hline(g,1244.7,708.3,1104,1.6);
  txt(g,rowsG[0],1113,1200,{size:14.5,weight:600,rot:90});
  txt(g,rowsG[1],1113,1291,{size:14.5,weight:600,rot:90});
  const groupLabels=[["stress",791,1120],["response",771.7,1120.7],["regulators",752.8,1121],["AA",932,1113],["Synthesis",912.6,1114],["1-C",892.7,1118],["metabolism",873.8,1116],["AA",999.9,1123],["transport",980,1124],["tRNA",1067.9,1120],["charging",1047.3,1120]];
  groupLabels.forEach(([t,xx,yy])=>txt(g,t,xx,yy,{size:14.5,rot:90}));
  g.append("path").attr("d",d3.line()([[710.6,1388],[710.6,1401.7],[1103.3,1401.7],[1103.3,1388]])).attr("fill","none").attr("stroke","#7030a0").attr("stroke-width",3);
  txt(g,"Integrated Stress Response",922,1415,{size:17.5,weight:700});
  colourbar(g,colG,-1.84,3.3,986.6,1115.3,1428,1437.3,false);
  const s=d3.scaleLinear().domain([-1,3]).range([1007.5,1107.7]);
  [-1,0,1,2,3].forEach(v=>txt(g,v,s(v),1444,{size:8,rot:90}));
  txt(g,"z-score",1049,1451,{size:12,weight:700});
}
// panel letters
const panelLetters=[["a",10,33],["b",19,558],["c",320,555],["d",19,908],["e",640,33],["f",1451,28],["g",659,1103],["h",1447,709],["i",1155,1110]];
panelLetters.forEach(([t,xx,yy])=>txt(svg,t,xx,yy,{size:28,weight:700,base:"alphabetic"}));
</script>
</body></html>
